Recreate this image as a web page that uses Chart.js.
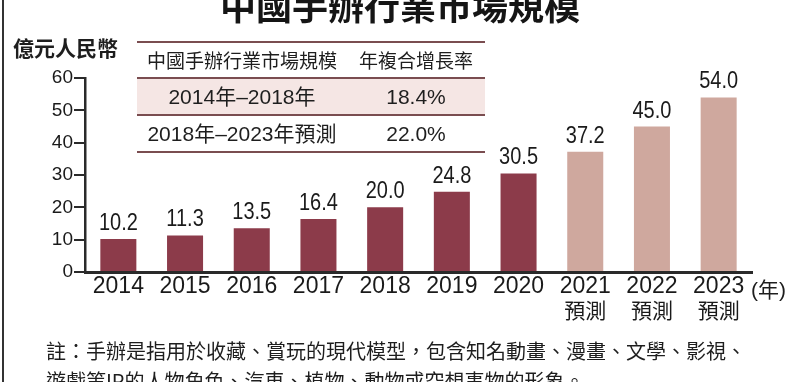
<!DOCTYPE html>
<html>
<head>
<meta charset="utf-8">
<script src="https://cdn.jsdelivr.net/npm/chart.js@4.4.1/dist/chart.umd.min.js"></script>
<style>
  html, body { margin: 0; padding: 0; background: #fff; }
  #wrap { position: relative; width: 800px; height: 382px; overflow: hidden; background: #fff; }
  #c { position: absolute; left: 0; top: 0; }
  .abs { position: absolute; white-space: nowrap; color: #1e1e1e; }
  #title { left: 0; width: 800px; top: -16px; text-align: center; font: bold 36px/40px "Noto Sans CJK TC", sans-serif; color: #151515; }
  #ytitle { left: 13px; top: 35px; font: bold 21px/24px "Noto Sans CJK TC", sans-serif; }
  #unit { left: 751px; top: 278px; font: 21px/24px "Liberation Sans", "Noto Sans CJK TC", sans-serif; }
  #note { left: 46px; top: 336px; font: 20px/30px "Noto Sans CJK TC", sans-serif; }
  #border { position: absolute; left: 2px; top: 0; width: 2px; height: 382px; background: #333; }
  #tbl { position: absolute; left: 137px; top: 41px; width: 348px; border-collapse: collapse; color: #1e1e1e; }
  #tbl td { padding: 0; text-align: center; vertical-align: middle; border-bottom: 2px solid #7a4d50; white-space: nowrap; }
  #tbl tr:first-child td { border-top: 2px solid #7a4d50; }
  #tbl .h td { height: 34px; font: 19px/22px "Noto Sans CJK TC", sans-serif; }
  #tbl .r td { height: 35px; font: 21px/24px "Liberation Sans", "Noto Sans CJK TC", sans-serif; }
  #tbl .shade td { background: #f5e6e4; }
</style>
</head>
<body>
<div id="wrap">
  <canvas id="c" width="800" height="382"></canvas>
  <div id="border"></div>
  <div id="title" class="abs"></div>
  <div id="ytitle" class="abs"></div>
  <div id="unit" class="abs"></div>
  <table id="tbl"></table>
  <div id="note" class="abs"></div>
</div>
<script>
// ---- data ----
const titleText = "中國手辦行業市場規模";
const yAxisTitle = "億元人民幣";
const unitText = "(年)";
const years = ["2014", "2015", "2016", "2017", "2018", "2019", "2020", "2021", "2022", "2023"];
const isForecast = [false, false, false, false, false, false, false, true, true, true];
const forecastWord = "預測";
const marketSize = [10.2, 11.3, 13.5, 16.4, 20.0, 24.8, 30.5, 37.2, 45.0, 54.0];
const yTicks = [0, 10, 20, 30, 40, 50, 60];
const tableHeader = ["中國手辦行業市場規模", "年複合增長率"];
const tablePeriods = ["2014年–2018年", "2018年–2023年預測"];
const tableCAGR = ["18.4%", "22.0%"];
const noteLines = [
  "註：手辦是指用於收藏、賞玩的現代模型，包含知名動畫、漫畫、文學、影視、",
  "遊戲等IP的人物角色、汽車、植物、動物或空想事物的形象。"
];

const numFamily = '"Liberation Sans", Arial, sans-serif';

// ---- text overlays ----
document.getElementById('title').textContent = titleText;
document.getElementById('ytitle').textContent = yAxisTitle;
document.getElementById('unit').textContent = unitText;
document.getElementById('note').innerHTML = noteLines.map(s => s.replace(/&/g,'&amp;').replace(/</g,'&lt;')).join('<br>');
const tbl = document.getElementById('tbl');
{
  const tr = document.createElement('tr'); tr.className = 'h';
  tableHeader.forEach((t, i) => { const td = document.createElement('td'); td.textContent = t; td.style.width = i === 0 ? '210px' : '138px'; tr.appendChild(td); });
  tbl.appendChild(tr);
  tablePeriods.forEach((p, i) => {
    const r = document.createElement('tr'); r.className = 'r' + (i === 0 ? ' shade' : '');
    [p, tableCAGR[i]].forEach(t => { const td = document.createElement('td'); td.textContent = t; r.appendChild(td); });
    tbl.appendChild(r);
  });
}

// ---- chart ----
const DARK = '#8c3b4a';
const LIGHT = '#cfa89e';
const AXIS = '#2a2a2a';

const valueLabels = {
  id: 'valueLabels',
  afterDatasetsDraw(chart) {
    const ctx = chart.ctx;
    const meta = chart.getDatasetMeta(0);
    meta.data.forEach((bar, i) => {
      ctx.save();
      ctx.font = '20px ' + numFamily;
      ctx.fillStyle = '#1a1a1a';
      ctx.textAlign = 'center';
      ctx.textBaseline = 'alphabetic';
      ctx.translate(bar.x, bar.y - 9);
      ctx.scale(1, 1.2);
      ctx.fillText(marketSize[i].toFixed(1), 0, 0);
      ctx.restore();
    });
  }
};

new Chart(document.getElementById('c'), {
  type: 'bar',
  data: {
    labels: years,
    datasets: [{
      data: marketSize,
      backgroundColor: isForecast.map(f => f ? LIGHT : DARK),
      borderWidth: 0,
      barPercentage: 0.54,
      categoryPercentage: 1.0
    }]
  },
  options: {
    responsive: false,
    animation: false,
    devicePixelRatio: 1,
    layout: { padding: { top: 78, right: 48, left: 0, bottom: 0 } },
    plugins: { legend: { display: false }, tooltip: { enabled: false } },
    scales: {
      x: {
        position: 'bottom',
        grid: { display: true, drawOnChartArea: false, drawTicks: false },
        border: { display: true, color: AXIS, width: 3 },
        ticks: {
          color: '#1a1a1a',
          padding: 3,
          maxRotation: 0,
          autoSkip: false,
          font: { family: numFamily, size: 23, lineHeight: 1.0 }
        },
        afterFit(scale) { scale.height = 28; }
      },
      x2: {
        type: 'category',
        position: 'bottom',
        offset: true,
        labels: years,
        grid: { display: false, drawOnChartArea: false, drawTicks: false },
        border: { display: false },
        ticks: {
          color: '#1a1a1a',
          padding: 0,
          maxRotation: 0,
          autoSkip: false,
          font: { family: '"Noto Sans CJK TC", sans-serif', size: 21, lineHeight: 1.0 },
          callback: (val, i) => isForecast[i] ? forecastWord : ''
        },
        afterFit(scale) { scale.height = 82; }
      },
      y: {
        min: 0, max: 60,
        afterBuildTicks(scale) { scale.ticks = yTicks.map(v => ({ value: v })); },
        grid: { display: true, drawOnChartArea: false, drawTicks: true, tickLength: 11, color: AXIS, lineWidth: 2 },
        border: { display: true, color: AXIS, width: 2.5 },
        ticks: {
          color: '#1a1a1a',
          padding: 1,
          font: { family: numFamily, size: 19 }
        },
        afterFit(scale) { scale.width = 85; }
      }
    }
  },
  plugins: [valueLabels]
});
</script>
</body>
</html>
